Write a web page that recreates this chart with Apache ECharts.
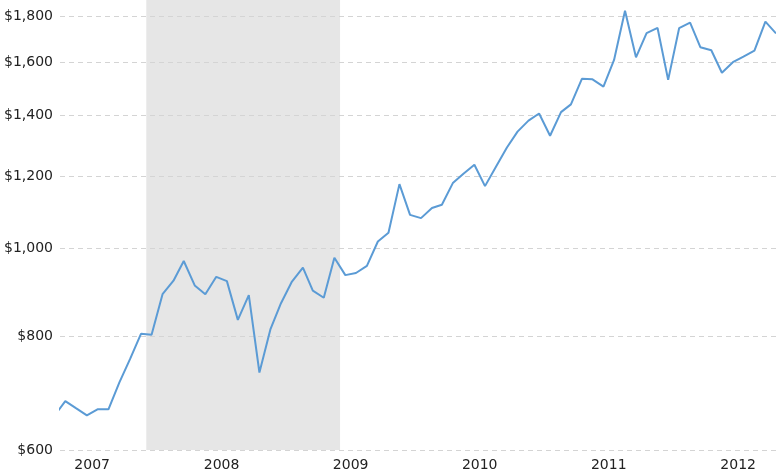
<!DOCTYPE html>
<html><head><meta charset="utf-8">
<script src="https://cdn.jsdelivr.net/npm/echarts@6/dist/echarts.min.js"></script>
<style>html,body{margin:0;padding:0;background:#fff}#c{width:776px;height:476px}</style>
</head><body><div id="c"></div>
<script>
// Monthly points (mid-month)
const months = [
  '2007-03','2007-04','2007-05','2007-06','2007-07','2007-08','2007-09','2007-10','2007-11','2007-12',
  '2008-01','2008-02','2008-03','2008-04','2008-05','2008-06','2008-07','2008-08','2008-09','2008-10','2008-11','2008-12',
  '2009-01','2009-02','2009-03','2009-04','2009-05','2009-06','2009-07','2009-08','2009-09','2009-10','2009-11','2009-12',
  '2010-01','2010-02','2010-03','2010-04','2010-05','2010-06','2010-07','2010-08','2010-09','2010-10','2010-11','2010-12',
  '2011-01','2011-02','2011-03','2011-04','2011-05','2011-06','2011-07','2011-08','2011-09','2011-10','2011-11','2011-12',
  '2012-01','2012-02','2012-03','2012-04','2012-05','2012-06','2012-07','2012-08','2012-09','2012-10'
];
const prices = [
  654,679,667,655,665,665,712,755,805,803,
  890,921,968,910,890,930,920,834,888,730,814,870,
  919,952,898,882,976,934,939,956,1017,1040,1176,1088,
  1079,1107,1116,1179,1207,1235,1170,1229,1290,1343,1381,1406,
  1329,1411,1439,1535,1533,1505,1610,1824,1621,1723,1746,1531,
  1745,1770,1663,1650,1559,1601,1624,1649,1774,1722
];
const yTicks = [600, 800, 1000, 1200, 1400, 1600, 1800];
const yearLabels = ['2007','2008','2009','2010','2011','2012'];
const recession = ['2007-12-01', '2009-06-01'];
const xRange = ['2007-04-01', '2012-10-16'];
const yRange = [599.99, 1874];

const FONT = 'DejaVu Sans';
const toTs = s => +new Date(s + 'T00:00:00');
const seriesData = months.map((m, i) => [toTs(m + '-16'), prices[i]]);
const yearTicks = yearLabels.map(y => toTs(y + '-07-01'));

const chart = echarts.init(document.getElementById('c'), null, {renderer: 'canvas'});
chart.setOption({
  animation: false,
  backgroundColor: '#ffffff',
  grid: {left: 60, right: 0, top: 0, bottom: 26, containLabel: false, outerBoundsMode: 'none'},
  xAxis: {
    type: 'value',
    min: toTs(xRange[0]),
    max: toTs(xRange[1]),
    axisLine: {show: false},
    axisTick: {show: false, customValues: yearTicks},
    splitLine: {show: false},
    axisLabel: {
      customValues: yearTicks,
      formatter: v => String(new Date(v).getFullYear()),
      fontFamily: FONT, fontSize: 14, color: '#222', margin: 8,
      hideOverlap: false, showMinLabel: true, showMaxLabel: true
    }
  },
  yAxis: {
    type: 'log',
    z: 1.5,
    min: yRange[0],
    max: yRange[1],
    axisLine: {show: false},
    axisTick: {show: false, customValues: yTicks},
    axisLabel: {
      customValues: yTicks,
      formatter: v => '$' + Math.round(v).toLocaleString('en-US'),
      fontFamily: FONT, fontSize: 14, color: '#222', margin: 7
    },
    splitLine: {show: true, lineStyle: {color: '#d4d4d4', type: [5, 4], width: 1}}
  },
  series: [{
    type: 'line',
    data: seriesData,
    showSymbol: false,
    symbol: 'none',
    clip: true,
    lineStyle: {color: '#5b9bd5', width: 2},
    markArea: {
      silent: true,
      itemStyle: {color: '#e6e6e6'},
      data: [[{xAxis: toTs(recession[0])}, {xAxis: toTs(recession[1])}]]
    }
  }]
});
</script>
</body></html>
